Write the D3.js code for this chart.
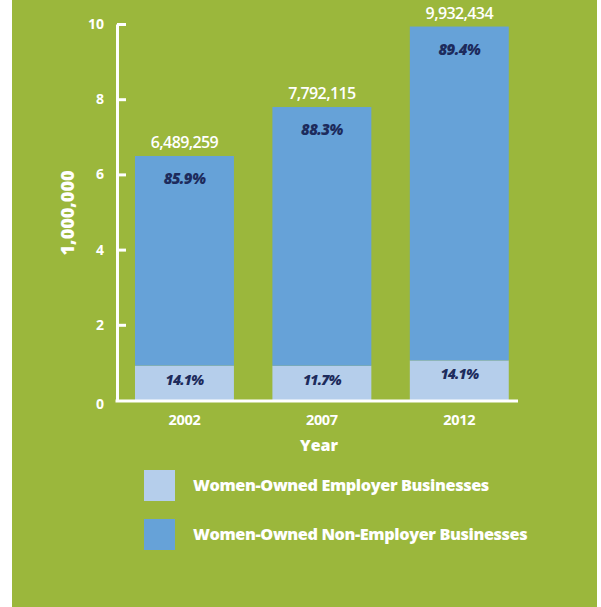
<!DOCTYPE html>
<html>
<head>
<meta charset="utf-8">
<script src="https://cdn.jsdelivr.net/npm/d3@7"></script>
<style>
  html, body { margin: 0; padding: 0; background: #ffffff; }
  svg { display: block; }
  text { font-family: "Open Sans", Lato, sans-serif; }
</style>
</head>
<body>
<script>
// Women-owned businesses by year (counts in millions)
const years = ["2002", "2007", "2012"];
const totals = [6.489259, 7.792115, 9.932434];
const totalLabels = ["6,489,259", "7,792,115", "9,932,434"];
// share of non-employer businesses in each year's total
const nonEmployerShare = [0.859, 0.883, 0.894];
const nonEmployerLabels = ["85.9%", "88.3%", "89.4%"];
const employerLabels = ["14.1%", "11.7%", "14.1%"];
const yTicks = [0, 2, 4, 6, 8, 10];
const seriesNames = ["Women-Owned Employer Businesses", "Women-Owned Non-Employer Businesses"];

const W = 601, H = 607;
const green = "#9bb73c", darkBlue = "#66a2d8", lightBlue = "#b5ceeb", navy = "#1d2b5c";

const svg = d3.select("body").append("svg").attr("width", W).attr("height", H);

// panel background
svg.append("rect").attr("x", 12).attr("y", 0).attr("width", 585).attr("height", H).attr("fill", green);

const x = d3.scaleBand().domain(years).range([115.75, 528]).paddingInner(0.28).paddingOuter(0.14);
const y = d3.scaleLinear().domain([0, 10]).range([400, 24]);

const rows = years.map((yr, i) => {
  const employer = totals[i] * (1 - nonEmployerShare[i]);
  return { yr, total: totals[i], employer, i };
});

// stacked bars: employer at the bottom, non-employer on top
const bars = svg.append("g");
bars.selectAll(".emp").data(rows).join("rect")
  .attr("x", d => x(d.yr)).attr("width", x.bandwidth())
  .attr("y", d => y(d.employer)).attr("height", d => y(0) - y(d.employer))
  .attr("fill", lightBlue);
bars.selectAll(".non").data(rows).join("rect")
  .attr("x", d => x(d.yr)).attr("width", x.bandwidth())
  .attr("y", d => y(d.total)).attr("height", d => y(d.employer) - y(d.total))
  .attr("fill", darkBlue);

// total labels above bars
svg.append("g").selectAll("text").data(rows).join("text")
  .attr("x", d => x(d.yr) + x.bandwidth() / 2)
  .attr("y", d => y(d.total) - 8)
  .attr("text-anchor", "middle").attr("fill", "#fff")
  .attr("font-size", 16).attr("font-weight", 600).attr("letter-spacing", -0.6)
  .text(d => totalLabels[d.i]);

// share labels inside bars
svg.append("g").selectAll("text").data(rows).join("text")
  .attr("x", d => x(d.yr) + x.bandwidth() / 2)
  .attr("y", d => y(d.total) + 28)
  .attr("text-anchor", "middle").attr("fill", navy)
  .attr("font-size", 15).attr("font-weight", 800).attr("font-style", "italic").attr("letter-spacing", -0.6)
  .text(d => nonEmployerLabels[d.i]);
svg.append("g").selectAll("text").data(rows).join("text")
  .attr("x", d => x(d.yr) + x.bandwidth() / 2)
  .attr("y", d => y(d.employer) + 19)
  .attr("text-anchor", "middle").attr("fill", navy)
  .attr("font-size", 14).attr("font-weight", 800).attr("font-style", "italic").attr("letter-spacing", -0.8)
  .text(d => employerLabels[d.i]);

// y axis: vertical line with ticks pointing into the plot
const yAxis = svg.append("g").attr("transform", "translate(117,0)")
  .call(d3.axisRight(y).tickValues(yTicks).tickSize(9).tickSizeOuter(0).tickFormat(""));
yAxis.select(".domain").attr("stroke", "#fff").attr("stroke-width", 3);
yAxis.selectAll(".tick line").attr("stroke", "#fff").attr("stroke-width", 3);
yAxis.selectAll(".tick").filter(d => d === 0).select("line").remove();
svg.append("g").selectAll("text").data(yTicks).join("text")
  .attr("x", 104).attr("y", d => y(d) + 5 + (d === 0 ? 4 : 0))
  .attr("text-anchor", "end").attr("fill", "#fff")
  .attr("font-size", 14).attr("font-weight", 700)
  .text(d => d);

// x axis baseline
svg.append("line").attr("x1", 115.5).attr("x2", 518).attr("y1", 401).attr("y2", 401)
  .attr("stroke", "#fff").attr("stroke-width", 3);
const xAxis = svg.append("g").attr("transform", "translate(0,401)")
  .call(d3.axisBottom(x).tickSize(0).tickPadding(0));
xAxis.select(".domain").remove();
xAxis.selectAll("text").attr("fill", "#fff").attr("font-size", 14.5).attr("font-weight", 700)
  .attr("font-family", "\"Open Sans\", Lato, sans-serif").attr("dy", 24).attr("letter-spacing", -0.3);

// axis titles
svg.append("text").attr("x", 319).attr("y", 451).attr("text-anchor", "middle")
  .attr("fill", "#fff").attr("font-size", 16).attr("font-weight", 800).text("Year");
svg.append("text").attr("transform", "translate(74,213) rotate(-90)").attr("text-anchor", "middle")
  .attr("fill", "#fff").attr("font-size", 18).attr("font-weight", 800).attr("letter-spacing", 0).text("1,000,000");

// legend
const legend = svg.append("g");
const legendColors = [lightBlue, darkBlue];
seriesNames.forEach((name, i) => {
  const gy = 470 + i * 49;
  legend.append("rect").attr("x", 144).attr("y", gy).attr("width", 31).attr("height", 31).attr("fill", legendColors[i]);
  legend.append("text").attr("x", 193).attr("y", gy + 21)
    .attr("fill", "#fff").attr("font-size", 16.3).attr("font-weight", 800).attr("letter-spacing", -0.4)
    .text(name);
});
</script>
</body>
</html>
